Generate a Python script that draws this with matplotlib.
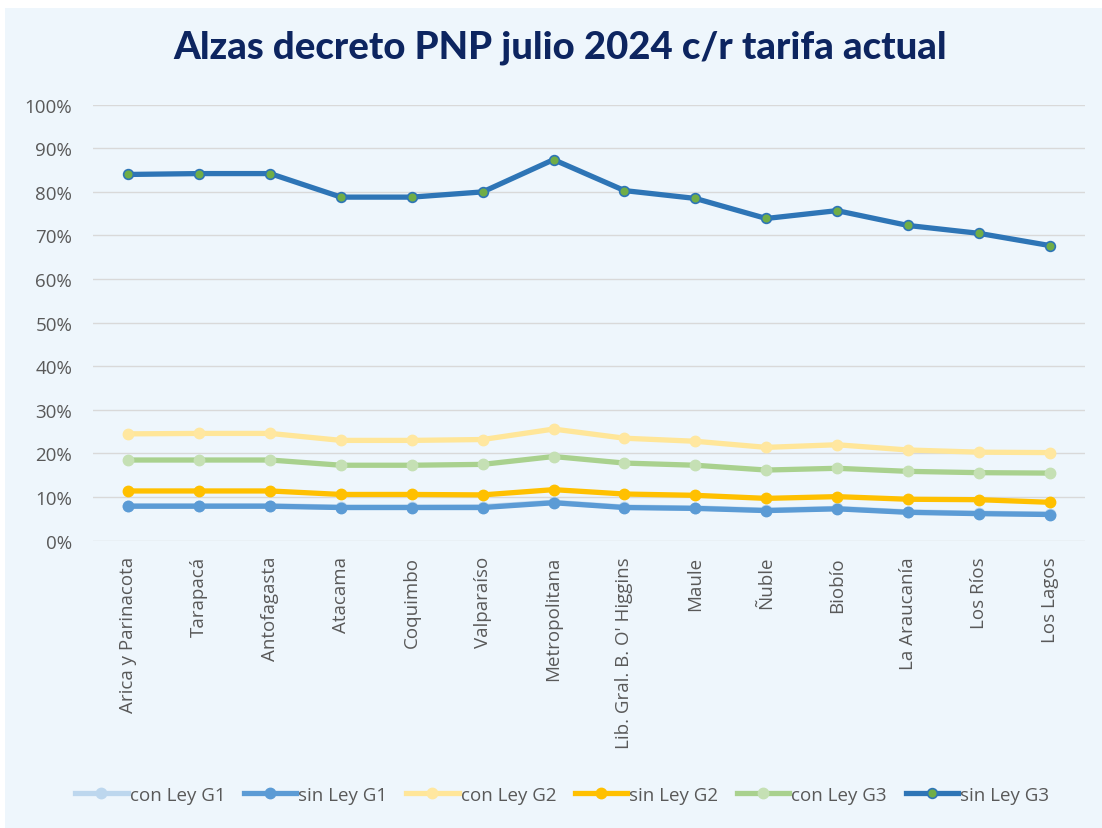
import matplotlib.pyplot as plt
from matplotlib.patches import Rectangle
from matplotlib.ticker import PercentFormatter

# Regions
regiones = ["Arica y Parinacota", "Tarapacá", "Antofagasta", "Atacama", "Coquimbo",
            "Valparaíso", "Metropolitana", "Lib. Gral. B. O' Higgins", "Maule", "Ñuble",
            "Biobío", "La Araucanía", "Los Ríos", "Los Lagos"]

# Alzas (%)
con_ley_g1 = [8.0, 8.0, 8.0, 7.7, 7.7, 7.8, 8.8, 7.7, 7.5, 7.0, 7.4, 6.6, 6.3, 6.1]
sin_ley_g1 = [7.9, 7.9, 7.9, 7.6, 7.6, 7.6, 8.7, 7.6, 7.4, 6.9, 7.3, 6.5, 6.2, 6.0]
con_ley_g2 = [24.5, 24.6, 24.6, 23.0, 23.0, 23.2, 25.6, 23.5, 22.8, 21.4, 22.0, 20.8, 20.3, 20.2]
sin_ley_g2 = [11.4, 11.4, 11.4, 10.6, 10.6, 10.5, 11.7, 10.7, 10.4, 9.7, 10.1, 9.5, 9.4, 8.8]
con_ley_g3 = [18.5, 18.5, 18.5, 17.3, 17.3, 17.5, 19.3, 17.8, 17.3, 16.2, 16.6, 15.9, 15.6, 15.5]
sin_ley_g3 = [84.0, 84.2, 84.2, 78.8, 78.8, 80.0, 87.4, 80.3, 78.5, 73.9, 75.7, 72.3, 70.5, 67.7]

bg = "#EEF6FC"
txt = "#595959"

fig = plt.figure(figsize=(11.02, 8.29), dpi=100, facecolor="white")
fig.patches.append(Rectangle((5 / 1102, 0), 1, 1 - 9 / 829, transform=fig.transFigure,
                             facecolor=bg, edgecolor="none", zorder=-10))
ax = fig.add_axes([0.0844, 0.3466, 0.9002, 0.5259])
ax.set_facecolor(bg)

x = range(len(regiones))
ax.plot(x, con_ley_g1, color="#BDD7EE", lw=3.8, marker="o", ms=7.5, mfc="#BDD7EE",
        mec="#BDD7EE", label="con Ley G1", zorder=3)
ax.plot(x, sin_ley_g1, color="#5B9BD5", lw=3.8, marker="o", ms=7.5, mfc="#5B9BD5",
        mec="#5B9BD5", label="sin Ley G1", zorder=3)
ax.plot(x, con_ley_g2, color="#FFE699", lw=3.8, marker="o", ms=7.5, mfc="#FFE7A0",
        mec="#FFE7A0", label="con Ley G2", zorder=3)
ax.plot(x, sin_ley_g2, color="#FFC000", lw=3.8, marker="o", ms=7.5, mfc="#FFC000",
        mec="#FFC000", label="sin Ley G2", zorder=3)
ax.plot(x, con_ley_g3, color="#A9D18E", lw=3.8, marker="o", ms=7.5, mfc="#C5E0B4",
        mec="#C5E0B4", label="con Ley G3", zorder=3)
ax.plot(x, sin_ley_g3, color="#2E75B6", lw=3.8, marker="o", ms=7, mfc="#70AD47",
        mec="#2E75B6", mew=1.2, label="sin Ley G3", zorder=3)

ax.set_xlim(-0.5, len(regiones) - 0.5)
ax.set_ylim(0, 100)
ax.set_yticks(range(0, 101, 10))
ax.yaxis.set_major_formatter(PercentFormatter(decimals=0))
ax.set_xticks(list(x))
ax.set_xticklabels(regiones, rotation=90, ha="center", va="top")
ax.tick_params(axis="both", length=0, labelsize=13.5, labelcolor=txt)
ax.tick_params(axis="y", pad=15)
ax.tick_params(axis="x", pad=11)
for lbl in ax.get_xticklabels() + ax.get_yticklabels():
    lbl.set_fontfamily("Open Sans")
ax.grid(axis="y", color="#D9D9D9", lw=1)
ax.set_axisbelow(True)
for s in ax.spines.values():
    s.set_visible(False)

fig.text(0.508, 0.942, "Alzas decreto PNP julio 2024 c/r tarifa actual", ha="center",
         va="center", fontsize=27.5, fontweight=900, color="#0D2560", family="Lato")

fig.legend(loc="center", bbox_to_anchor=(0.51, 0.04), ncol=6, frameon=False,
           handlelength=2.8, handletextpad=0.1, columnspacing=1.0,
           prop={"family": "Open Sans", "size": 13.5}, labelcolor=txt)

fig.savefig("out.png", dpi=100, facecolor=fig.get_facecolor())
